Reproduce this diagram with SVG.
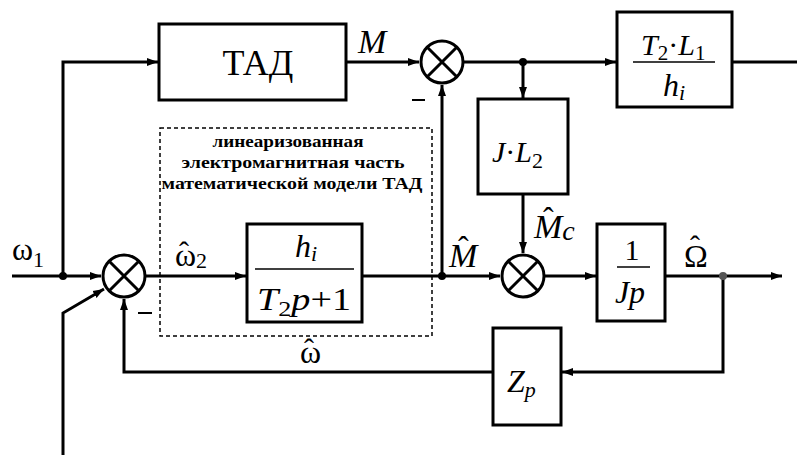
<svg xmlns="http://www.w3.org/2000/svg" width="797" height="457" viewBox="0 0 797 457">
<style>
.blk{fill:#fff;stroke:#000;stroke-width:3}
.sum{fill:#fff;stroke:#000;stroke-width:3}
.ln{fill:none;stroke:#000;stroke-width:3}
.dash{fill:none;stroke:#000;stroke-width:1.5;stroke-dasharray:4,3}
text{font-family:"Liberation Serif","Times New Roman","DejaVu Serif",serif;fill:#000}
.m{font-style:italic}
.c{text-anchor:middle}
.note{font-weight:bold;font-size:16px;text-anchor:middle}
.dot{fill:#000}
</style>
<defs>
<marker id="ar" markerUnits="userSpaceOnUse" markerWidth="12" markerHeight="10" refX="11" refY="5" orient="auto">
<path d="M0,1 L11,5 L0,9 z" fill="#000"/>
</marker>
</defs>
<rect width="797" height="457" fill="#fff"/>

<g id="dashed-region">
<rect class="dash" x="160" y="128" width="272" height="208"/>
<text class="note" x="288" y="147" textLength="151" lengthAdjust="spacingAndGlyphs">линеаризованная</text>
<text class="note" x="293" y="168" textLength="223" lengthAdjust="spacingAndGlyphs">электромагнитная часть</text>
<text class="note" x="292" y="189" textLength="261" lengthAdjust="spacingAndGlyphs">математической модели ТАД</text>
</g>

<g id="connectors">
<path class="ln" d="M12,276 H101" marker-end="url(#ar)"/>
<path class="ln" d="M63,276 V62 H158" marker-end="url(#ar)"/>
<path class="ln" d="M63,455 V313 L104,289" marker-end="url(#ar)"/>
<path class="ln" d="M146,276 H246" marker-end="url(#ar)"/>
<path class="ln" d="M362,276 H500" marker-end="url(#ar)"/>
<path class="ln" d="M442,276 V85" marker-end="url(#ar)"/>
<path class="ln" d="M346,62 H419" marker-end="url(#ar)"/>
<path class="ln" d="M464,62 H616" marker-end="url(#ar)"/>
<path class="ln" d="M523,62 V98" marker-end="url(#ar)"/>
<path class="ln" d="M523,194 V253" marker-end="url(#ar)"/>
<path class="ln" d="M545,276 H596" marker-end="url(#ar)"/>
<path class="ln" d="M665,276 H782" marker-end="url(#ar)"/>
<path class="ln" d="M723,276 V372 H562" marker-end="url(#ar)"/>
<path class="ln" d="M493,372 H124 V299" marker-end="url(#ar)"/>
<path class="ln" d="M732,62 H797"/>
<circle class="dot" cx="63" cy="276" r="4"/>
<circle class="dot" cx="442" cy="276" r="4"/>
<circle class="dot" cx="523" cy="62" r="4"/>
<circle cx="723" cy="276" r="4" fill="#555"/>
</g>

<g id="tad">
<rect class="blk" x="159" y="24" width="187" height="76"/>
<text class="c" x="258" y="75" font-size="36" font-family="Liberation Serif, serif">ТАД</text>
</g>

<g id="sum-top">
<circle class="sum" cx="442" cy="62" r="21"/>
<path class="ln" d="M427,47 L457,77 M457,47 L427,77"/>
</g>

<g id="sum-left">
<circle class="sum" cx="124" cy="276" r="21"/>
<path class="ln" d="M109,261 L139,291 M139,261 L109,291"/>
</g>

<g id="sum-right">
<circle class="sum" cx="523" cy="276" r="21"/>
<path class="ln" d="M508,261 L538,291 M538,261 L508,291"/>
</g>

<g id="block-h">
<rect class="blk" x="247" y="224" width="115" height="98"/>
<text class="m" x="295" y="257" font-size="32">h<tspan font-size="22" dy="4">i</tspan></text>
<line x1="255" y1="269" x2="354" y2="269" stroke="#000" stroke-width="1.5"/>
<text class="m" x="257" y="310" font-size="32" textLength="94" lengthAdjust="spacingAndGlyphs">T<tspan font-size="22" dy="6" font-style="normal">2</tspan><tspan dy="-6">p</tspan><tspan font-style="normal">+1</tspan></text>
</g>

<g id="block-T2L1">
<rect class="blk" x="617" y="12" width="115" height="95"/>
<text class="m" x="641" y="55" font-size="30">T<tspan font-size="21" dy="5" font-style="normal">2</tspan><tspan dy="-5" font-style="normal">·</tspan>L<tspan font-size="21" dy="5" font-style="normal">1</tspan></text>
<line x1="633" y1="62" x2="715" y2="62" stroke="#000" stroke-width="1.5"/>
<text class="m" x="663" y="96" font-size="32">h<tspan font-size="22" dy="4">i</tspan></text>
</g>

<g id="block-JL2">
<rect class="blk" x="478" y="99" width="90" height="95"/>
<text class="m" x="492" y="162" font-size="30">J<tspan font-style="normal">·</tspan>L<tspan font-size="22" dy="6" font-style="normal">2</tspan></text>
</g>

<g id="block-Jp">
<rect class="blk" x="597" y="224" width="68" height="97"/>
<text class="c" x="632" y="260" font-size="30">1</text>
<line x1="617" y1="267" x2="650" y2="267" stroke="#000" stroke-width="1.5"/>
<text class="m c" x="630" y="303" font-size="32">Jp</text>
</g>

<g id="block-Zp">
<rect class="blk" x="493" y="328" width="68" height="97"/>
<text class="m" x="507" y="392" font-size="32">Z<tspan font-size="22" dy="5">p</tspan></text>
</g>

<g id="labels">
<text x="12" y="260" font-size="32">ω<tspan font-size="22" dy="7">1</tspan></text>
<text x="175" y="266" font-size="32">ω<tspan font-size="22" dy="2">2</tspan></text>
<text x="179" y="262" font-size="30">ˆ</text>
<text class="m" x="358" y="53" font-size="34">M</text>
<text class="m" x="449" y="267" font-size="34">M</text>
<text x="458" y="258" font-size="32">ˆ</text>
<text class="m" x="534" y="238" font-size="34">M<tspan font-size="28" dy="2">c</tspan></text>
<text x="543" y="229" font-size="32">ˆ</text>
<text x="684" y="267" font-size="32">Ω</text>
<text x="690" y="256" font-size="30">ˆ</text>
<text x="300" y="363" font-size="32">ω</text>
<text x="304" y="359" font-size="30">ˆ</text>
<line x1="412" y1="100" x2="425" y2="100" stroke="#000" stroke-width="2"/>
<line x1="138" y1="313" x2="152" y2="313" stroke="#000" stroke-width="2"/>
</g>
</svg>
